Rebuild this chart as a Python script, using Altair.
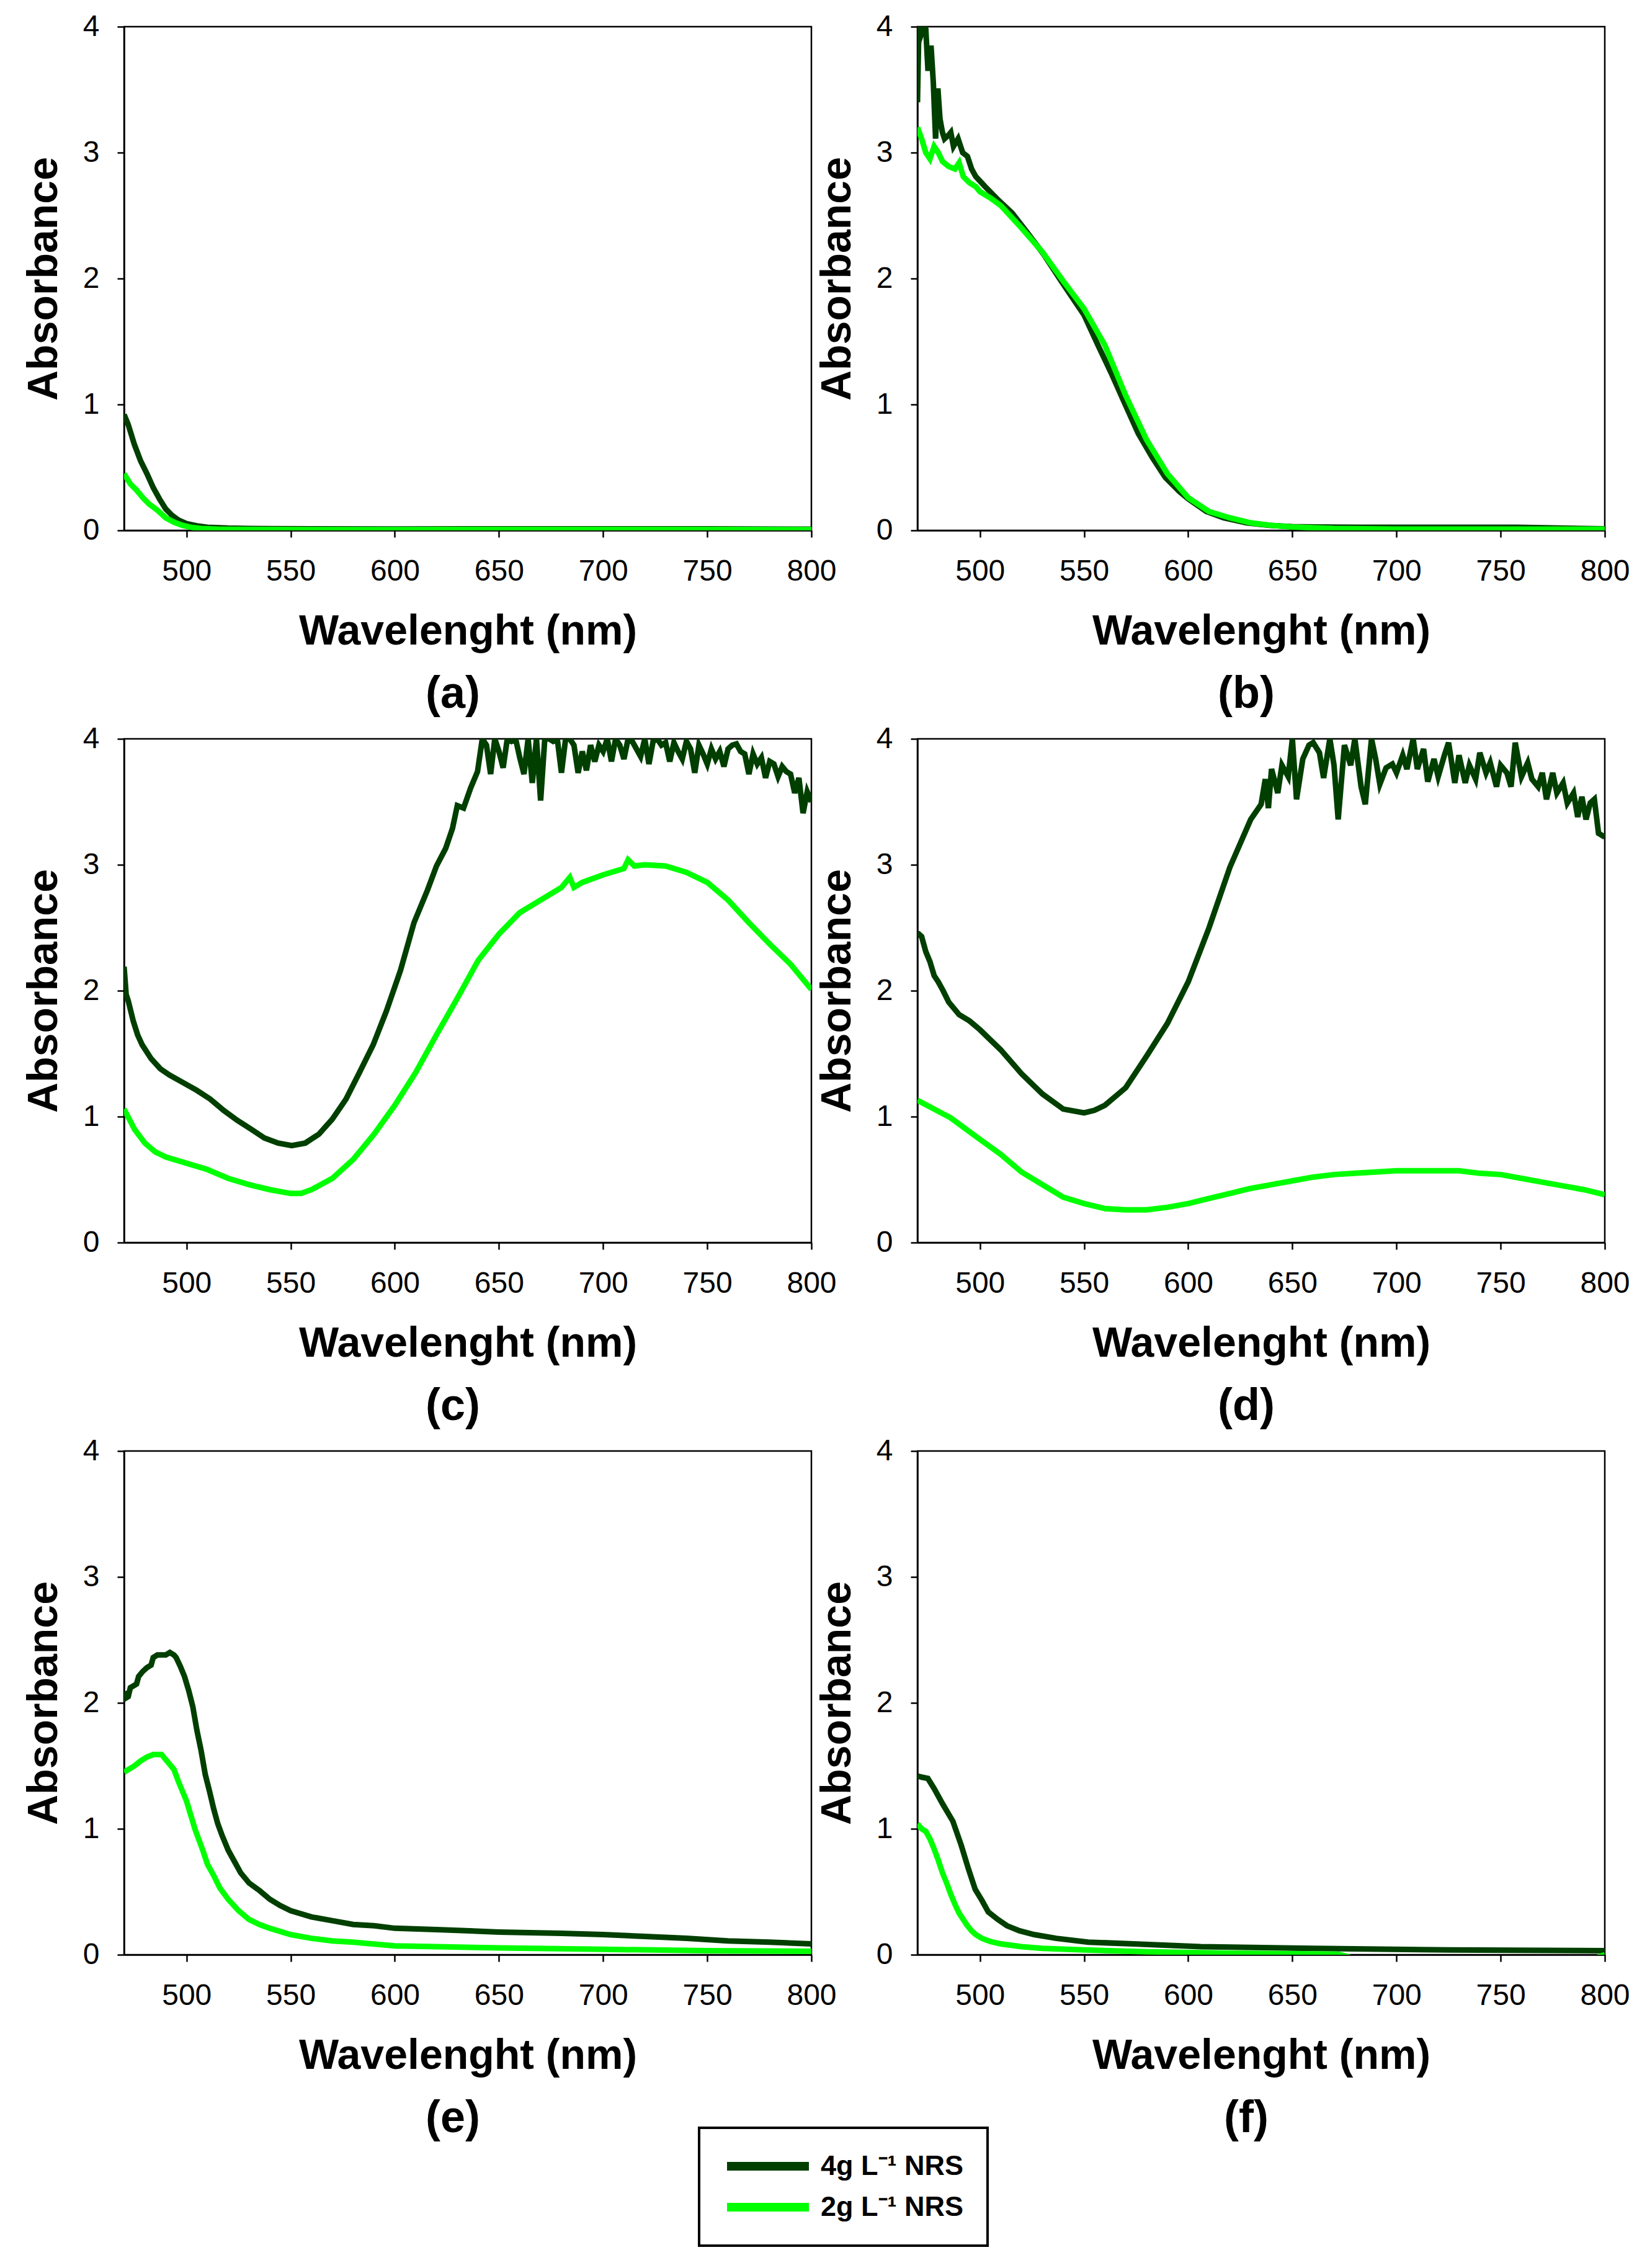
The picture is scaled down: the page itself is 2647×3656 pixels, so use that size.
import altair as alt
import pandas as pd

FONT = "Liberation Sans"
DARK = "#003f00"
LIGHT = "#00ff00"
LAB4 = "4g L\u207b\u00b9 NRS"
LAB2 = "2g L\u207b\u00b9 NRS"
XTICKS = [500, 550, 600, 650, 700, 750, 800]
YTICKS = [0, 1, 2, 3, 4]
CAPTIONS = ["(a)", "(b)", "(c)", "(d)", "(e)", "(f)"]

# ---------------- panel (a) ----------------
A4_WL = [470, 472, 475, 478, 481, 484, 487, 490, 493, 496, 500, 505, 510, 520, 530, 540, 560, 600, 650, 700, 750, 800]
A4 = [0.92, 0.84, 0.68, 0.55, 0.45, 0.34, 0.25, 0.17, 0.12, 0.083, 0.054, 0.036, 0.025, 0.018, 0.015, 0.014, 0.012, 0.011, 0.012, 0.012, 0.012, 0.010]
A2_WL = [470, 473, 476, 479, 482, 486, 490, 494, 498, 502, 507, 515, 530, 560, 600, 650, 700, 750, 800]
A2 = [0.45, 0.37, 0.32, 0.26, 0.21, 0.16, 0.10, 0.065, 0.04, 0.025, 0.015, 0.01, 0.007, 0.006, 0.006, 0.008, 0.008, 0.008, 0.006]

# ---------------- panel (b) ----------------
B4_WL = [470, 470.5, 471, 472, 473, 474, 475, 475.5, 476.5, 477.6, 478.7, 479.8, 480.8, 482, 483, 485, 486, 487.3,
         489.5, 491.7, 494, 496, 498, 502.5, 509, 515.5, 522, 530.7, 539, 550, 556.7, 563, 570, 576, 582.7, 589,
         595.7, 600, 608.7, 617, 628, 639, 650, 660, 682, 720, 758, 800]
B4 = [3.40, 3.85, 4.00, 3.95, 4.00, 3.98, 3.67, 3.67, 3.85, 3.56, 3.11, 3.51, 3.27, 3.16, 3.11, 3.14, 3.16, 3.05,
      3.11, 3.00, 2.97, 2.87, 2.81, 2.73, 2.62, 2.52, 2.38, 2.19, 1.98, 1.71, 1.47, 1.25, 0.99, 0.77, 0.58, 0.42,
      0.31, 0.25, 0.15, 0.10, 0.06, 0.04, 0.03, 0.027, 0.025, 0.025, 0.025, 0.012]
B2_WL = [470, 472, 474, 476, 478, 480, 482, 485, 488, 490, 492, 495, 498, 500, 505, 510, 515, 520, 530, 540, 550,
         560, 570, 580, 590, 600, 610, 620, 630, 640, 650, 670, 700, 750, 800]
B2 = [3.20, 3.11, 3.00, 2.95, 3.05, 3.00, 2.93, 2.89, 2.87, 2.92, 2.81, 2.76, 2.73, 2.69, 2.64, 2.58, 2.49, 2.40,
      2.21, 1.98, 1.76, 1.47, 1.07, 0.72, 0.45, 0.26, 0.15, 0.10, 0.06, 0.04, 0.027, 0.015, 0.01, 0.01, 0.01]

# ---------------- panel (c) ----------------
C4_WL_RISE = [470, 471, 472, 474.4, 476.5, 478.7, 483, 487.4, 491.8, 498.3, 504.8, 511.3, 517.8, 524.4, 531, 537.4,
              544, 550.5, 557, 563.5, 570, 576.6, 583, 589.6, 596, 602.7, 609.2, 615.7, 620, 624.4, 627.7, 630,
              633, 636.4, 639.7]
C4_RISE = [2.19, 1.97, 1.92, 1.76, 1.65, 1.57, 1.46, 1.38, 1.33, 1.27, 1.21, 1.14, 1.05, 0.97, 0.90, 0.83, 0.79,
           0.77, 0.79, 0.86, 0.98, 1.14, 1.35, 1.57, 1.84, 2.16, 2.54, 2.80, 2.99, 3.13, 3.29, 3.47, 3.45, 3.61, 3.74]
C4_WL_NOISE = [642, 644, 646, 648, 650, 652, 654, 656, 658, 660, 662, 664, 666, 668, 670, 672, 674, 676, 678, 680,
               682, 684, 686, 688, 690, 692, 694, 696, 698, 700, 702, 704, 706, 708, 710, 712, 714, 716, 718, 720,
               722, 724, 726, 728, 730, 732, 734, 736, 738, 740, 742, 744, 746, 748, 750, 752, 754, 756, 758, 760,
               762, 764, 766, 768, 770, 772, 774, 776, 778, 780, 782, 784, 786, 788, 790, 792, 794, 796, 798, 800]
C4_NOISE = [4.00, 3.95, 3.72, 4.00, 3.90, 3.77, 4.00, 3.98, 4.00, 3.85, 3.72, 4.00, 3.65, 4.00, 3.51, 4.00, 4.00,
            3.98, 4.00, 3.73, 4.00, 4.00, 3.95, 3.73, 3.90, 3.75, 3.95, 3.82, 3.95, 3.90, 4.00, 3.82, 4.00, 3.95,
            3.84, 4.00, 3.98, 3.92, 3.86, 4.00, 3.80, 3.98, 4.00, 3.95, 3.97, 3.82, 3.97, 3.90, 3.84, 3.98, 3.92,
            3.73, 3.95, 3.88, 3.80, 3.92, 3.84, 3.90, 3.78, 3.92, 3.95, 3.96, 3.90, 3.88, 3.72, 3.88, 3.80, 3.85,
            3.69, 3.82, 3.80, 3.70, 3.78, 3.74, 3.72, 3.57, 3.69, 3.41, 3.58, 3.50]
C2_WL = [470, 475, 480, 485, 490, 500, 510, 520, 530, 540, 550, 555, 560, 570, 580, 590, 600, 610, 620, 630, 640,
         650, 660, 670, 680, 684, 686, 690, 700, 710, 712, 715, 720, 730, 740, 750, 760, 770, 780, 790, 800]
C2 = [1.06, 0.90, 0.79, 0.72, 0.68, 0.63, 0.58, 0.51, 0.46, 0.42, 0.39, 0.39, 0.42, 0.51, 0.66, 0.86, 1.09, 1.35,
      1.65, 1.94, 2.24, 2.45, 2.62, 2.72, 2.82, 2.90, 2.82, 2.86, 2.92, 2.97, 3.04, 2.99, 3.00, 2.99, 2.94, 2.86,
      2.72, 2.54, 2.37, 2.21, 2.01]

# ---------------- panel (d) ----------------
D4_WL = [470, 472, 474, 476, 478, 480, 482, 485, 490, 495, 500, 510, 520, 530, 540, 550, 555, 560, 570, 580,
         590, 600, 610, 620, 630, 635, 637, 638.5, 640, 643, 645, 648, 650, 652, 655, 658, 660, 663, 665, 668,
         670, 672, 675, 678, 680, 683, 685, 688, 690, 692, 695, 698, 700, 703, 705, 708, 710, 713, 715, 718,
         720, 723, 725, 728, 730, 733, 735, 738, 740, 743, 745, 748, 750, 753, 755, 757, 760, 763, 765, 768,
         770, 772, 775, 777, 780, 782, 785, 787, 789, 791, 793, 795, 797, 800]
D4 = [2.46, 2.43, 2.31, 2.23, 2.12, 2.07, 2.01, 1.91, 1.81, 1.76, 1.69, 1.53, 1.34, 1.18, 1.06, 1.03, 1.05, 1.09,
      1.23, 1.48, 1.74, 2.07, 2.50, 2.98, 3.36, 3.48, 3.68, 3.45, 3.76, 3.57, 3.79, 3.70, 4.00, 3.52, 3.84, 3.95,
      3.97, 3.89, 3.69, 4.00, 3.79, 3.36, 3.95, 3.79, 4.00, 3.62, 3.48, 4.00, 3.84, 3.64, 3.77, 3.80, 3.73, 3.87,
      3.76, 4.00, 3.76, 3.92, 3.66, 3.84, 3.70, 3.87, 3.97, 3.65, 3.87, 3.65, 3.79, 3.68, 3.89, 3.73, 3.81, 3.62,
      3.79, 3.73, 3.62, 3.97, 3.70, 3.81, 3.68, 3.62, 3.73, 3.52, 3.73, 3.57, 3.65, 3.49, 3.57, 3.38, 3.54, 3.36,
      3.49, 3.52, 3.25, 3.22]
D2_WL = [470, 486, 500, 510, 520, 530, 540, 550, 560, 570, 580, 590, 600, 610, 620, 630, 640, 650, 660, 670, 680,
         690, 700, 710, 720, 730, 740, 750, 760, 770, 780, 790, 800]
D2 = [1.13, 0.99, 0.82, 0.70, 0.56, 0.46, 0.36, 0.31, 0.27, 0.26, 0.26, 0.28, 0.31, 0.35, 0.39, 0.43, 0.46, 0.49,
      0.52, 0.54, 0.55, 0.56, 0.57, 0.57, 0.57, 0.57, 0.55, 0.54, 0.51, 0.48, 0.45, 0.42, 0.38]

# ---------------- panel (e) ----------------
E4_WL = [470, 471, 472, 473, 475, 476, 477, 479, 481, 483, 484, 486, 488, 490, 492, 494, 495, 497, 499, 501, 503,
         505, 507, 509, 511, 513, 515, 517, 520, 523, 526, 530, 535, 540, 545, 550, 560, 570, 580, 590, 600, 620,
         650, 680, 700, 720, 740, 760, 780, 800]
E4 = [2.09, 2.04, 2.05, 2.12, 2.14, 2.15, 2.21, 2.25, 2.28, 2.30, 2.36, 2.38, 2.38, 2.38, 2.40, 2.38, 2.36, 2.29,
      2.21, 2.10, 1.97, 1.78, 1.62, 1.43, 1.30, 1.16, 1.04, 0.95, 0.83, 0.74, 0.65, 0.57, 0.51, 0.44, 0.39, 0.35,
      0.30, 0.27, 0.24, 0.23, 0.21, 0.20, 0.18, 0.17, 0.16, 0.145, 0.13, 0.11, 0.10, 0.086]
E2_WL = [470, 472, 475, 478, 481, 484, 486, 488, 490, 492, 494, 496, 498, 500, 502, 504, 506, 508, 510, 513, 516,
         520, 525, 530, 535, 540, 550, 560, 570, 580, 600, 620, 650, 700, 750, 800]
E2 = [1.45, 1.47, 1.50, 1.54, 1.57, 1.59, 1.59, 1.59, 1.55, 1.51, 1.47, 1.38, 1.30, 1.22, 1.11, 1.00, 0.91, 0.82,
      0.72, 0.63, 0.53, 0.44, 0.35, 0.28, 0.24, 0.21, 0.16, 0.13, 0.11, 0.10, 0.07, 0.064, 0.054, 0.043, 0.032, 0.027]

# ---------------- panel (f) ----------------
F4_WL = [470, 472, 475, 478, 482, 487, 491, 494.5, 497.7, 501, 504, 508.6, 513, 519, 526, 536.7, 552, 573.6, 606,
         660, 725, 800]
F4 = [1.42, 1.41, 1.40, 1.32, 1.20, 1.06, 0.87, 0.68, 0.52, 0.43, 0.34, 0.28, 0.23, 0.19, 0.16, 0.13, 0.10, 0.086,
      0.064, 0.051, 0.038, 0.032]
F2_WL = [470, 472, 474, 476, 478, 480, 482, 484, 486, 488, 490, 492, 494, 496, 498, 501, 505, 510, 520, 530, 550,
         580, 620, 660, 672, 680, 700, 750, 795, 800]
F2 = [1.04, 1.00, 0.98, 0.92, 0.84, 0.75, 0.65, 0.57, 0.48, 0.40, 0.33, 0.28, 0.23, 0.19, 0.16, 0.13, 0.105, 0.086,
      0.064, 0.051, 0.038, 0.024, 0.012, 0.006, 0.004, -0.03, -0.03, -0.03, -0.03, 0.0]

W, H = 1108, 812
LINE_W = 9

color = alt.Color(
    "series:N",
    scale=alt.Scale(domain=[LAB4, LAB2], range=[DARK, LIGHT]),
    legend=alt.Legend(
        title=None, orient="none", legendX=927, legendY=3387,
        symbolType="stroke", symbolSize=17424, symbolStrokeWidth=14,
        labelFont=FONT, labelFontSize=45, labelFontWeight="bold", labelColor="black",
        labelOffset=12, labelLimit=600, clipHeight=48, rowPadding=18, padding=38,
        strokeColor="black", fillColor="white",
    ),
)


def panel(wl4, a4, wl2, a2, caption):
    d4 = pd.DataFrame({"wl": wl4, "abs": a4, "series": LAB4})
    d2 = pd.DataFrame({"wl": wl2, "abs": a2, "series": LAB2})
    x = alt.X("wl:Q", scale=alt.Scale(domain=[470, 800], nice=False, zero=False),
              axis=alt.Axis(values=XTICKS, title="Wavelenght (nm)"))
    y = alt.Y("abs:Q", scale=alt.Scale(domain=[0, 4], nice=False),
              axis=alt.Axis(values=YTICKS, title="Absorbance"))
    l4 = alt.Chart(d4).mark_line(strokeWidth=LINE_W, clip=True).encode(x=x, y=y, color=color)
    l2 = alt.Chart(d2).mark_line(strokeWidth=LINE_W, clip=True).encode(x=x, y=y, color=color)
    return alt.layer(l4, l2).properties(
        width=W, height=H,
        title=alt.TitleParams(caption, orient="bottom", font=FONT, fontSize=72, fontWeight="bold",
                              color="black", offset=32, dx=-24),
    )


panels = [
    panel(A4_WL, A4, A2_WL, A2, CAPTIONS[0]),
    panel(B4_WL, B4, B2_WL, B2, CAPTIONS[1]),
    panel(C4_WL_RISE + C4_WL_NOISE, C4_RISE + C4_NOISE, C2_WL, C2, CAPTIONS[2]),
    panel(D4_WL, D4, D2_WL, D2, CAPTIONS[3]),
    panel(E4_WL, E4, E2_WL, E2, CAPTIONS[4]),
    panel(F4_WL, F4, F2_WL, F2, CAPTIONS[5]),
]

chart = alt.concat(*panels, columns=2, spacing={"row": 336, "column": 171}, bounds="flush").properties(
    padding={"left": 28, "top": 9, "right": 5, "bottom": 5}
).configure_view(
    stroke="black", strokeWidth=2.5
).configure_axis(
    grid=False, domainColor="black", domainWidth=2.5, tickColor="black", tickWidth=2.5, tickSize=11,
    labelFont=FONT, labelFontSize=48, labelColor="black", labelFlush=False, labelOverlap=False,
    titleFont=FONT, titleFontSize=68, titleFontWeight="bold", titleColor="black",
).configure_axisX(
    labelPadding=31, titlePadding=39,
).configure_axisY(
    labelPadding=29, titlePadding=28,
).configure_legend(
    strokeWidth=4,
)

chart.save("out.html", embed_options={"renderer": "svg", "actions": False})
